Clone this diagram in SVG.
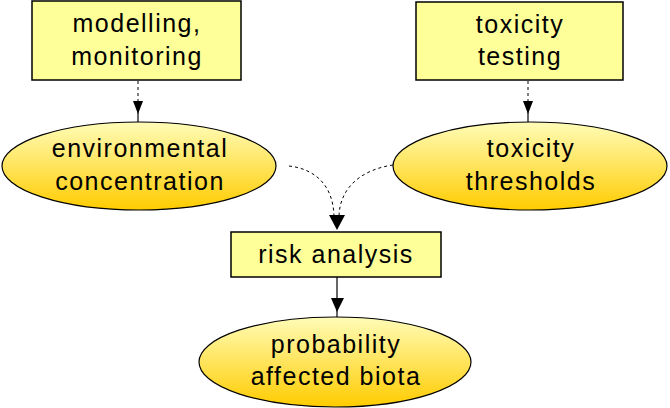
<svg xmlns="http://www.w3.org/2000/svg" width="670" height="408" viewBox="0 0 670 408">
<style>
.box{fill:#ffff99;stroke:#000;stroke-width:1.5}
.ell{fill:url(#g);stroke:#000;stroke-width:1.2}
text{font-family:"Liberation Sans",Arial,sans-serif;font-size:25px;letter-spacing:1.5px;fill:#000;text-anchor:middle}
.dash{fill:none;stroke:#000;stroke-width:1;stroke-dasharray:3,3}
.solid{fill:none;stroke:#000;stroke-width:1.2}
.head{fill:#000}
</style>
<defs>
<linearGradient id="g" x1="0" y1="0" x2="0" y2="1">
<stop offset="0" stop-color="#fffcb8"/>
<stop offset="1" stop-color="#ffcc00"/>
</linearGradient>
</defs>
<g id="connectors">
<line class="dash" x1="138" y1="81" x2="138" y2="104"/>
<line class="solid" x1="138" y1="110" x2="138" y2="122"/>
<polygon class="head" points="133,101 143,101 138,114"/>
<line class="dash" x1="528" y1="81" x2="528" y2="104"/>
<line class="solid" x1="528" y1="110" x2="528" y2="122"/>
<polygon class="head" points="523,101 533,101 528,114"/>
<path class="dash" d="M289,166 C315,169 333,185 334,216"/>
<path class="dash" d="M393,165 C365,169 340,185 339,216"/>
<polygon class="head" points="329,215 345,215 337,230"/>
<line class="solid" x1="337" y1="277" x2="337" y2="317"/>
<polygon class="head" points="331,298 344,298 337,312"/>
</g>
<g id="modelling">
<rect class="box" x="32" y="1" width="209" height="79"/>
<text x="137" y="32">modelling,</text>
<text x="137" y="65">monitoring</text>
</g>
<g id="toxtest">
<rect class="box" x="416" y="2" width="207" height="78"/>
<text x="520" y="33">toxicity</text>
<text x="520" y="65">testing</text>
</g>
<g id="envconc">
<ellipse class="ell" cx="139" cy="166" rx="137" ry="44"/>
<text x="140" y="157">environmental</text>
<text x="140" y="190">concentration</text>
</g>
<g id="toxthr">
<ellipse class="ell" cx="530" cy="166" rx="137" ry="44"/>
<text x="531" y="157">toxicity</text>
<text x="531" y="190">thresholds</text>
</g>
<g id="risk">
<rect class="box" x="231" y="232" width="210" height="45"/>
<text x="336" y="263">risk analysis</text>
</g>
<g id="prob">
<ellipse class="ell" cx="335" cy="362" rx="136" ry="45"/>
<text x="336" y="353">probability</text>
<text x="336" y="385">affected biota</text>
</g>
</svg>
